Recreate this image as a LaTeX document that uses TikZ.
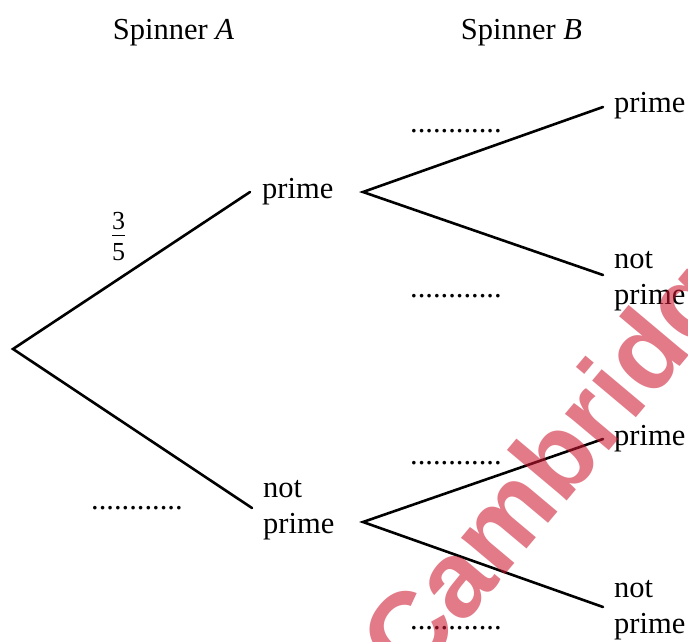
\documentclass[tikz,border=0pt]{standalone}
\usepackage{fontspec}
\setmainfont{Liberation Serif}
\newfontfamily\markfont{Liberation Sans}
\definecolor{markred}{RGB}{205,25,50}
\begin{document}
\begin{tikzpicture}[x=1pt,y=-1pt,
  branch/.style={line width=2.6pt, line cap=round, line join=miter},
  txt/.style={inner sep=0pt, font=\fontsize{30.5}{36}\selectfont},
  lbl/.style={txt, anchor=base west},
  head/.style={txt, anchor=base},
]
\useasboundingbox (0,0) rectangle (688,642);

% branch points of the tree
\coordinate (root) at (13,349);
\coordinate (aP)  at (250,192);
\coordinate (aN)  at (252,508);
\coordinate (bP)  at (363,192);
\coordinate (bN)  at (363,522);
\coordinate (bPP) at (603,107);
\coordinate (bPN) at (603,275);
\coordinate (bNP) at (603,439);
\coordinate (bNN) at (603,607);

% column headings
\node[head] (hA) at (173.5,40) {Spinner \textit{A}};
\node[head] (hB) at (521.5,40) {Spinner \textit{B}};

% outcome labels
\node[lbl] (tAP) at (262,198) {prime};
\node[lbl] (tAN) at (263,497) {\begin{tabular}[t]{@{}l@{}}not\\prime\end{tabular}};
\node[lbl] (tPP) at (614,112) {prime};
\node[lbl] (tPN) at (614,268) {\begin{tabular}[t]{@{}l@{}}not\\prime\end{tabular}};
\node[lbl] (tNP) at (614,445) {prime};
\node[lbl] (tNN) at (614,597) {\begin{tabular}[t]{@{}l@{}}not\\prime\end{tabular}};

% probabilities
\node[inner sep=0pt] (pAP) at (118.5,239) {\fontsize{26}{28}\selectfont\setlength\arrayrulewidth{1.4pt}%
  \begin{tabular}{@{}c@{}}3\\[-3pt]\hline\rule{0pt}{24pt}5\end{tabular}};
\node[lbl] (pAN) at (91,509) {............};
\node[lbl] (pPP) at (410,132) {............};
\node[lbl] (pPN) at (410,297) {............};
\node[lbl] (pNP) at (410,464) {............};
\node[lbl] (pNN) at (410,629) {............};

% branches
\draw[branch] (aP) -- (root) -- (aN);
\draw[branch] (bPP) -- (bP) -- (bPN);
\draw[branch] (bNP) -- (bN) -- (bNN);

% watermark stamp
\node[inner sep=0pt, rotate=50, text=markred, opacity=0.58,
      font=\markfont\bfseries\fontsize{108}{108}\selectfont] (stamp) at (572,452) {Cambridge};
\end{tikzpicture}
\end{document}
